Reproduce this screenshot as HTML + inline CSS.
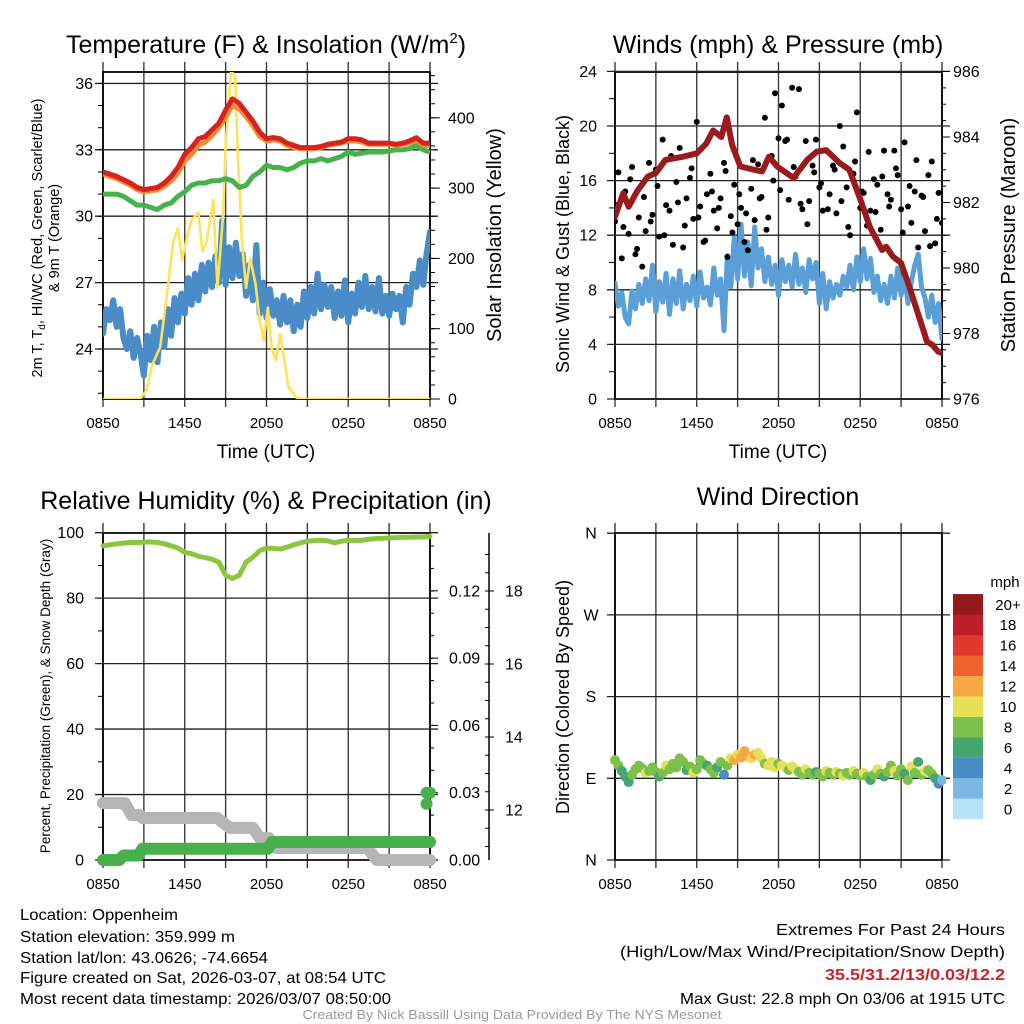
<!DOCTYPE html>
<html><head><meta charset="utf-8"><style>
html,body{margin:0;padding:0;background:#fff;}
svg{display:block;font-family:"Liberation Sans",sans-serif;}
.nar{font-family:"Liberation Sans Narrow","Liberation Sans",sans-serif;}
</style></head><body>
<svg id="c" width="1024" height="1024" viewBox="0 0 1024 1024" xmlns="http://www.w3.org/2000/svg">
<defs>
<clipPath id="cp1"><rect x="103" y="72" width="327" height="327"/></clipPath>
<clipPath id="cp2"><rect x="615" y="72" width="327" height="327"/></clipPath>
<clipPath id="cp3"><rect x="95" y="526" width="345" height="342"/></clipPath>
<clipPath id="cp4"><rect x="610" y="528" width="336" height="336"/></clipPath>
</defs>
<text x="266" y="53" font-size="25" text-anchor="middle">Temperature (F) &amp; Insolation (W/m<tspan font-size="15" dy="-10">2</tspan><tspan dy="10">)</tspan></text>
<text x="778" y="53" font-size="25" text-anchor="middle">Winds (mph) &amp; Pressure (mb)</text>
<text x="266" y="509" font-size="25" text-anchor="middle">Relative Humidity (%) &amp; Precipitation (in)</text>
<text x="778" y="505" font-size="25" text-anchor="middle">Wind Direction</text>
<text x="266" y="458" font-size="19" text-anchor="middle">Time (UTC)</text>
<text x="778" y="458" font-size="19" text-anchor="middle">Time (UTC)</text>
<text transform="translate(42,238) rotate(-90)" font-size="14.5" text-anchor="middle">2m T, T<tspan font-size="10" dy="3">d</tspan><tspan dy="-3">, HI/WC (Red, Green, Scarlet/Blue)</tspan></text>
<text transform="translate(59,238) rotate(-90)" font-size="14.5" text-anchor="middle">&amp; 9m T (Orange)</text>
<text transform="translate(501,235) rotate(-90)" font-size="20" text-anchor="middle">Solar Insolation (Yellow)</text>
<text transform="translate(569,244) rotate(-90)" font-size="18" text-anchor="middle">Sonic Wind &amp; Gust (Blue, Black)</text>
<text transform="translate(1015,235) rotate(-90)" font-size="20" text-anchor="middle">Station Pressure (Maroon)</text>
<text transform="translate(50,696) rotate(-90)" font-size="13.5" text-anchor="middle">Percent, Precipitation (Green), &amp; Snow Depth (Gray)</text>
<text transform="translate(569,697) rotate(-90)" font-size="18" text-anchor="middle">Direction (Colored By Speed)</text>
<text x="1005" y="587" font-size="15" text-anchor="middle">mph</text>
<g class="nar" font-size="16">
<text x="20" y="920" textLength="158" lengthAdjust="spacingAndGlyphs">Location: Oppenheim</text>
<text x="20" y="942" textLength="215" lengthAdjust="spacingAndGlyphs">Station elevation: 359.999 m</text>
<text x="20" y="963" textLength="248" lengthAdjust="spacingAndGlyphs">Station lat/lon: 43.0626; -74.6654</text>
<text x="20" y="983" textLength="366" lengthAdjust="spacingAndGlyphs">Figure created on Sat, 2026-03-07, at 08:54 UTC</text>
<text x="20" y="1004" textLength="371" lengthAdjust="spacingAndGlyphs">Most recent data timestamp: 2026/03/07 08:50:00</text>
</g>
<g class="nar" font-size="16" text-anchor="end">
<text x="1005" y="935" textLength="229" lengthAdjust="spacingAndGlyphs">Extremes For Past 24 Hours</text>
<text x="1005" y="957" textLength="385" lengthAdjust="spacingAndGlyphs">(High/Low/Max Wind/Precipitation/Snow Depth)</text>
<text x="1005" y="980" fill="#cc2229" font-weight="bold" textLength="180" lengthAdjust="spacingAndGlyphs">35.5/31.2/13/0.03/12.2</text>
<text x="1005" y="1004" textLength="325" lengthAdjust="spacingAndGlyphs">Max Gust: 22.8 mph On 03/06 at 1915 UTC</text>
</g>
<text x="512" y="1019" class="nar" font-size="13" fill="#999" text-anchor="middle" textLength="419" lengthAdjust="spacingAndGlyphs">Created By Nick Bassill Using Data Provided By The NYS Mesonet</text>
</svg>
<script>
// ---------- data ----------
const xTickLabels = ["0850","1450","2050","0250","0850"];
const tempTicks = [24,27,30,33,36];
const solarTicks = [0,100,200,300,400];
const windTicks = [0,4,8,12,16,20,24];
const pressTicks = [976,978,980,982,984,986];
const rhTicks = [0,20,40,60,80,100];
const precipTicks = ["0.00","0.03","0.06","0.09","0.12"];
const snowTicks = [12,14,16,18];
const dirTicks = ["N","E","S","W","N"];
const cbarLabels = ["0","2","4","6","8","10","12","14","16","18","20+"];

const tempRed = [32.0,31.9,31.8,31.65,31.5,31.3,31.2,31.25,31.3,31.5,31.8,32.2,32.8,33.1,33.5,33.6,33.9,34.2,34.8,35.3,35.1,34.7,34.3,33.8,33.5,33.55,33.5,33.3,33.2,33.1,33.1,33.1,33.15,33.25,33.3,33.35,33.5,33.5,33.45,33.3,33.3,33.3,33.3,33.25,33.3,33.4,33.55,33.3,33.3];
const temp9m = [31.9,31.8,31.7,31.55,31.4,31.2,31.1,31.15,31.2,31.35,31.6,31.95,32.5,32.8,33.2,33.35,33.65,34.0,34.5,35.0,34.85,34.5,34.1,33.6,33.4,33.45,33.4,33.2,33.1,33.05,33.05,33.05,33.1,33.2,33.25,33.3,33.4,33.4,33.35,33.25,33.25,33.25,33.25,33.2,33.25,33.3,33.45,33.2,33.2];
const dewGreen = [31.0,31.0,31.0,30.9,30.7,30.5,30.5,30.4,30.3,30.5,30.6,30.9,31.1,31.4,31.5,31.5,31.6,31.6,31.7,31.6,31.3,31.4,31.8,32.0,32.3,32.2,32.2,32.1,32.2,32.4,32.5,32.5,32.6,32.5,32.6,32.7,32.9,32.8,32.85,32.9,32.9,32.9,32.95,33.0,33.0,33.05,33.2,33.0,32.9];
const chillBlue = [24.7,
25.8,25.3,26.2,25.0,25.8,24.5,24.0,24.8,23.6,24.5,23.8,22.8,24.6,23.5,25.0,23.4,
25.2,24.1,25.8,24.6,26.3,25.2,26.5,25.6,27.2,26.0,27.4,26.2,27.8,26.6,27.9,26.8,
28.2,27.0,29.8,26.9,28.6,27.2,28.8,27.3,28.3,26.4,27.8,26.2,28.7,25.6,27.0,25.4,
26.7,25.5,26.2,25.1,26.4,25.2,26.2,24.8,26.0,25.0,26.6,25.4,26.8,25.6,27.4,25.8,
26.9,25.9,26.8,25.4,26.6,25.5,27.1,25.2,26.5,25.6,27.0,25.9,27.3,25.8,26.8,25.7,
27.2,25.6,26.4,25.5,26.5,25.8,26.4,25.2,26.8,26.0,27.4,26.8,28.0,26.9,28.3,29.3];
const solarHours = [0,2.7,3.2,3.6,4.2,4.7,5.15,5.5,5.8,6.2,6.5,7.0,7.3,7.6,8.1,8.4,8.8,9.0,9.4,9.7,9.9,10.2,10.5,10.8,11.2,11.5,11.8,12.1,12.4,12.7,13.0,13.4,13.6,14.2,14.6,24];
const solarValues = [0,0,12,48,74,150,223,243,198,233,255,265,210,223,283,158,258,360,468,458,344,223,158,200,163,112,83,130,69,55,93,45,17,2,0,0];

const windSpeed = [8.5,
6.8,7.8,6.0,5.5,7.9,6.6,8.4,7.0,8.8,7.2,9.8,6.4,8.6,7.1,9.2,6.2,
8.8,7.0,9.4,6.6,8.4,7.2,9.0,6.8,9.3,7.4,8.2,6.9,9.6,7.6,8.8,5.0,
10.5,8.2,11.8,8.8,12.8,9.0,11.5,8.3,12.6,9.6,11.0,8.6,10.4,8.4,9.8,7.6,
10.2,8.6,9.8,8.2,10.6,8.4,9.6,7.8,10.2,8.8,10.0,7.0,9.2,6.6,8.6,7.4,
8.4,7.6,9.0,8.2,9.8,8.0,10.4,8.6,11.0,8.8,10.3,7.8,9.0,7.2,8.4,7.0,
9.0,7.4,9.6,7.6,9.2,7.0,8.6,9.8,10.6,8.2,7.4,6.0,7.6,5.6,7.0,4.4];
const windGust = [13.0,
16.6,10.3,15.2,12.1,17.0,10.6,13.3,9.7,12.3,17.3,13.5,16.8,11.9,19.0,14.2,13.8,
11.3,15.9,18.4,11.1,14.7,16.2,13.2,20.3,14.1,11.5,15.0,16.5,13.8,12.5,14.7,17.3,
10.4,13.4,15.7,12.8,14.0,11.5,10.9,15.4,13.1,17.2,14.8,20.6,13.3,17.8,22.4,19.1,
21.5,18.9,14.6,22.8,16.3,22.7,13.9,18.9,14.5,17.1,19.0,15.5,13.8,18.2,15.0,17.1,
13.6,20.0,18.5,15.5,12.0,16.5,21.0,14.0,15.1,12.7,13.8,16.1,15.7,12.4,18.2,15.0,
14.6,18.2,16.4,13.9,18.8,14.1,12.9,15.2,11.1,14.9,12.3,16.4,17.4,11.4,15.1,12.9];
const gustExtra = [14.2,12.6,16.1,11.0,14.8,13.0,15.6,12.0,17.8,14.4,12.7,16.9,13.3,11.6,15.2,14.0,
16.7,12.2,15.0,13.6,17.5,14.7,12.4,16.0,15.3,19.0,17.0,14.3,12.8,16.6,15.8,13.9,
16.8,14.5,12.6,17.4,15.2,18.1,13.7,16.3,14.1,16.9,12.2,15.6,17.5,14.8,11.2,13.2];
const pressHours = [0,0.6,1,1.6,2.4,3,3.7,5,6,6.7,7.2,7.8,8.2,8.6,9.2,10.2,10.8,11.3,11.9,13.1,14.1,14.8,15.5,16.5,17.2,18,18.7,19.6,19.9,20.4,21,21.6,22.4,22.9,23.3,23.7,24];
const pressValues = [981.57,982.28,981.87,982.33,982.79,982.9,983.3,983.4,983.5,983.8,984.2,984.0,984.6,983.75,983.1,983.0,982.95,983.4,983.1,982.75,983.3,983.55,983.6,983.2,983.0,982.1,981.26,980.55,980.65,980.35,980.15,979.43,978.4,977.75,977.65,977.45,977.4];

const rhValues = [96.0,96.3,96.6,96.8,97.0,97.0,97.1,97.2,97.0,96.6,96.0,95.3,94.0,93.6,92.8,92.4,91.9,91.0,87.0,86.0,87.0,91.0,92.5,94.5,95.3,95.2,95.0,95.6,96.3,96.9,97.4,97.6,97.7,97.5,96.9,97.4,97.7,97.6,97.7,98.0,98.2,98.3,98.4,98.5,98.6,98.6,98.7,98.7,98.9];
const precipHours = [0,1.2,1.5,2.6,2.9,12.1,12.4,24];
const precipValues = [0,0,0.002,0.002,0.005,0.005,0.008,0.008];
const precipPointHours = [23.75,24,23.75];
const precipPointValues = [0.03,0.03,0.025];
const snowHours = [0,1.6,2.1,2.7,2.9,8.4,9.3,11.0,11.5,12.2,12.7,19.4,20.1,24];
const snowValues = [12.19,12.19,11.86,11.86,11.78,11.78,11.51,11.51,11.23,11.23,10.96,10.96,10.63,10.63];

const dirValues = [110,
104,98,92,86,94,100,104,101,96,98,102,97,92,96,104,100,
106,102,112,108,99,103,96,100,110,106,104,100,96,102,108,94,
104,112,110,116,113,120,114,112,116,118,112,106,104,108,102,106,
104,102,99,103,100,97,94,100,96,94,97,95,92,98,96,94,
97,95,93,96,94,98,95,93,96,92,88,94,100,95,92,97,
104,98,93,100,95,88,103,96,108,94,98,99,95,90,84,88];
const dirSpeed = [8.5,
8,7,6.5,7,8,8.5,9,8,10,8.5,8,9,7,8.5,10,9,
8,9,8.5,9,7.5,8.5,10,9,8,8.5,7,8.5,9,7.5,8,5,
9,10,12,11,12,12.5,12,11,12,10.5,10,9,10.5,11,10,9,
10,10.5,9,10,11,9,8,10,9,8,7,9,8,10,9,8.5,
10,9,10.5,9,8,10,9.5,8,10,8.5,7,8.5,10,9,7,8,
8.5,10,9,8.5,7,9,10,8,7,8.5,10,9,8,6,4,3.5];

// ---------- scales ----------
const NS="http://www.w3.org/2000/svg";
const svg=document.getElementById('c');
const PW=327;
function xL(t){return 103+t*PW/24;}
function xR(t){return 615+t*PW/24;}
function yTemp(v){return 399-(v-21.74)*22.13;}
function ySolar(v){return 399-v*0.703;}
function yWind(v){return 399-v*13.65;}
function yPress(p){return 399-(p-976)*32.75;}
function yRH(v){return 860-v*3.273;}
function yPrecip(v){return 860-v*2243;}
function ySnow(v){return 810-(v-12)*36.5;}
function yDir(d){return 860-d*0.9078;}
function speedColor(s){
  const cols=["#b6e3f8","#7bb9e4","#4a8dc6","#47a66f","#7cc14a","#e6df58","#f5a843","#ef632c","#df3a2b","#bf1f27","#921a1c"];
  let i=Math.floor(s/2); if(i>10)i=10; if(i<0)i=0; return cols[i];
}
function mk(tag,attrs,parent){const e=document.createElementNS(NS,tag);for(const k in attrs)e.setAttribute(k,attrs[k]);(parent||svg).appendChild(e);return e;}
function pathFrom(xs,ys){let d="";for(let i=0;i<xs.length;i++)d+=(i?"L":"M")+xs[i].toFixed(2)+","+ys[i].toFixed(2);return d;}
function idxHours(n){const a=[];for(let i=0;i<n;i++)a.push(i*24/(n-1));return a;}

// ---------- frame builder ----------
function frame(x0,y0,yTop,yBot,name){
  const g=mk('g',{});
  
  
  for(let k=0;k<=8;k++){
    const x=x0+k*PW/8;
    const l=mk('line',{x1:x,x2:x,y1:yTop-10,y2:yBot+8,stroke:'#3a3a3a','stroke-width':1.4},g);
    
    
  }
  for(let k=0;k<xTickLabels.length;k++){
    const t=mk('text',{x:x0+k*PW/4,y:yBot+29,'font-size':15,'text-anchor':'middle'},g);
    t.textContent=xTickLabels[k];
    
    
  }
  const b=mk('rect',{x:x0,y:yTop,width:PW,height:yBot-yTop,fill:'none',stroke:'#000','stroke-width':1.8},g);
  
  
  return g;
}
function hgrid(g,x0,y,name){
  const l=mk('line',{x1:x0-8,x2:x0+PW+8,y1:y,y2:y,stroke:'#222','stroke-width':1.3},g);
  
  
}
function tick(g,x1,x2,y,name){
  const l=mk('line',{x1:x1,x2:x2,y1:y,y2:y,stroke:'#000','stroke-width':1},g);
  
  
}
function label(g,x,y,txt,anchor,name,size){
  const t=mk('text',{x:x,y:y+5.5,'font-size':size||16,'text-anchor':anchor},g);
  t.textContent=txt;
  
  
}
function line(xs,ys,color,w,clip,name){
  const p=mk('path',{d:pathFrom(xs,ys),fill:'none',stroke:color,'stroke-width':w,'stroke-linejoin':'round','stroke-linecap':'round','clip-path':'url(#'+clip+')'});
  
  
  return p;
}

// ---------- panel 1 ----------
const g1=frame(103,0,72,399,'temp');
tempTicks.forEach(v=>{hgrid(g1,103,yTemp(v),'temp');label(g1,93,yTemp(v),String(v),'end','temp-y-tick-label');});
for(let v=22;v<=36;v++){tick(g1,98,103,yTemp(v),'temp-minor');}
solarTicks.forEach(v=>{tick(g1,430,440,ySolar(v),'solar');label(g1,448,ySolar(v),String(v),'start','solar-y-tick-label');});
for(let v=20;v<=460;v+=20){tick(g1,430,435,ySolar(v),'solar-minor');}
line(idxHours(chillBlue.length).map(xL),chillBlue.map(yTemp),'#4a8cc8',6,'cp1','windchill-line');
line(solarHours.map(xL),solarValues.map(ySolar),'#fde35a',2.6,'cp1','solar-line');
line(idxHours(dewGreen.length).map(xL),dewGreen.map(yTemp),'#45b24b',5,'cp1','dewpoint-line');
line(idxHours(temp9m.length).map(xL),temp9m.map(yTemp),'#f5892f',5,'cp1','temp-9m-line');
line(idxHours(tempRed.length).map(xL),tempRed.map(yTemp),'#d5231f',5,'cp1','temp-2m-line');

// ---------- panel 2 ----------
const g2=frame(615,0,72,399,'winds');
windTicks.forEach(v=>{hgrid(g2,615,yWind(v),'winds');label(g2,597,yWind(v),String(v),'end','wind-y-tick-label');});
for(let v=2;v<24;v+=4){tick(g2,609,615,yWind(v),'wind-minor');}
pressTicks.forEach(v=>{tick(g2,942,950,yPress(v),'press');label(g2,953,yPress(v),String(v),'start','pressure-y-tick-label');});
for(let v=976.5;v<986;v+=0.5){tick(g2,942,946,yPress(v),'press-minor');}
line(idxHours(windSpeed.length).map(xR),windSpeed.map(yWind),'#5b9fd8',5,'cp2','wind-speed-line');
const gh=idxHours(windGust.length);
for(let i=0;i<windGust.length;i++){
  const c=mk('circle',{cx:xR(gh[i]),cy:yWind(windGust[i]),r:3,fill:'#000','clip-path':'url(#cp2)'});
  
  
}
const ge=gustExtra.map((v,i)=>i*24/gustExtra.length+0.12);
for(let i=0;i<gustExtra.length;i++){
  const c=mk('circle',{cx:xR(ge[i]),cy:yWind(gustExtra[i]),r:3,fill:'#000','clip-path':'url(#cp2)'});
  
  
}
line(pressHours.map(xR),pressValues.map(yPress),'#9a1b1e',6,'cp2','pressure-line');

// ---------- panel 3 ----------
const g3=frame(103,0,533,860,'humidity');
rhTicks.forEach(v=>{hgrid(g3,103,yRH(v),'humidity');label(g3,84,yRH(v),String(v),'end','rh-y-tick-label');});
for(let v=10;v<100;v+=20){tick(g3,98,103,yRH(v),'rh-minor');}
precipTicks.forEach(v=>{tick(g3,430,438,yPrecip(+v),'precip');label(g3,449,yPrecip(+v),v,'start','precip-y-tick-label');});
for(let v=0.01;v<0.14;v+=0.01){tick(g3,430,434,yPrecip(v),'precip-minor');}
const sax=mk('line',{x1:489,x2:489,y1:533,y2:860,stroke:'#000','stroke-width':1.5},g3);


snowTicks.forEach(v=>{tick(g3,489,494,ySnow(v),'snow');label(g3,505,ySnow(v),String(v),'start','snow-y-tick-label');});
for(let v=11;v<=19;v+=0.5){tick(g3,485,489,ySnow(v),'snow-minor');}
line(snowHours.map(xL),snowValues.map(ySnow),'#b5b5b5',12,'cp3','snow-depth-line');
line(precipHours.map(xL),precipValues.map(yPrecip),'#46b04a',12,'cp3','precip-line');
for(let i=0;i<precipPointHours.length;i++){
  const c=mk('circle',{cx:xL(precipPointHours[i]),cy:yPrecip(precipPointValues[i]),r:6,fill:'#46b04a','clip-path':'url(#cp3)'});
  
  
}
line(idxHours(rhValues.length).map(xL),rhValues.map(yRH),'#8cc640',5,'cp3','rh-line');

// ---------- panel 4 ----------
const g4=frame(615,0,533,860,'direction');
dirTicks.forEach((v,i)=>{const y=yDir(i*90);hgrid(g4,615,y,'direction');label(g4,591,y,v,'middle','direction-y-tick-label');});
const dh=idxHours(dirValues.length);
for(let i=0;i<dirValues.length;i++){
  const c=mk('circle',{cx:xR(dh[i]),cy:yDir(dirValues[i]),r:5,fill:speedColor(dirSpeed[i]),'clip-path':'url(#cp4)'});
  
  
}
const cb=mk('g',{});


for(let i=0;i<cbarLabels.length;i++){
  const yb=819-(i+1)*20.45;
  const r=mk('rect',{x:953,y:yb,width:30,height:20.6,fill:speedColor(i*2)},cb);
  
  
  label(cb,1008,yb+10.2,cbarLabels[i],'middle','colorbar-label',15);
}
</script>
</body></html>
